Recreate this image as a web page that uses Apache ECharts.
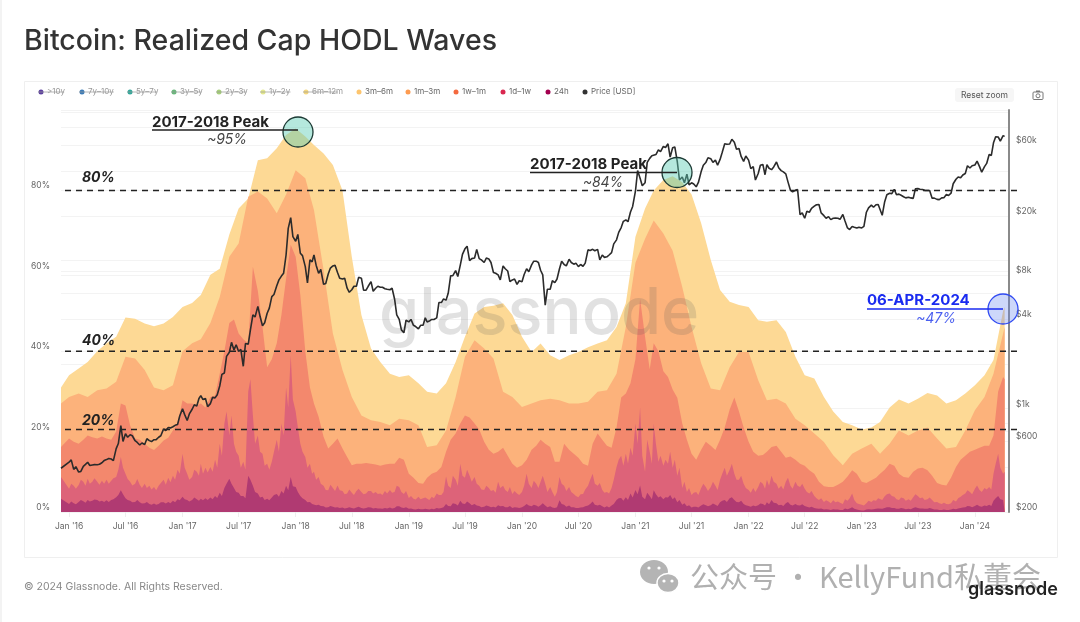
<!DOCTYPE html>
<html>
<head>
<meta charset="utf-8">
<title>Bitcoin: Realized Cap HODL Waves</title>
<script src="https://cdn.jsdelivr.net/npm/echarts@6/dist/echarts.min.js"></script>
<style>
html, body { margin: 0; padding: 0; background: #fff; }
#main { width: 1080px; height: 622px; }
</style>
</head>
<body>
<div id="main"></div>
<script>
// cumulative top edge of each visible band, in percent
// monthly rows: first value is the 6 Dec 2015 start, last two are 1 and 6 Apr 2024
var top3m6m = [31,
  34,35.7,37.3,40,42,43.6,48.4,48.1,46.9,46.2,46.9,48.5,
  51,52,54,59,60.5,69,75.5,78,87.5,88,90.5,93.8,
  95.4,93.4,91.3,89.2,86.3,80,63.5,49,40.7,37.3,34.4,33.6,
  34,32,29.9,29.5,32,37.3,43.6,49.4,51,51.3,51.9,49,
  43.6,39.8,41.9,39,37.8,39,39.8,41,41.9,42.7,46,51.9,
  68.5,75.5,80,82.6,83.5,82,79,71.8,62.7,55.2,52.3,51.5,
  51,47.7,47.3,47.7,44.8,38.6,34,33.2,28.6,25,22.4,21.6,
  20.5,21,22.4,26,28,27,28.2,29.6,29,27,27.8,29.5,
  31.5,34,37.8,50,51];
var top1m3m = [27,
  28.6,29.5,28.6,30.3,30.7,32.4,38.6,38.2,35.3,31,30.3,31.5,
  40,42,43,47,53.5,63.5,66.8,78.4,79.7,78,74.3,79,
  85,83,75.1,60.2,44.4,35.3,28.6,24,22.8,22.4,21.6,23.2,
  22.8,21.6,16.2,16.6,20.3,28.6,38.6,42.7,40.7,38.2,29.9,28.6,
  26.1,27,27.8,28.2,27.8,27,27,27.4,29.9,30.3,34.4,46,
  62,68,72.5,69.3,65,56,46,37,30.7,30.3,36,39.8,
  39.8,32.8,27.8,28.2,27,23.2,21.6,19.5,17.4,14.1,11.6,14.5,
  15.8,17,14.5,17,20.3,19,20.3,21,18.3,15.8,16.2,20.3,
  25.3,28.6,34.4,44.4,46];
// half monthly rows: start value, then the 1st and 16th of each month
var top1w1m = [16.2,
  18.3,17.5,17,18,19,18.6,18.3,18.8,18.3,18,20,27,26.5,21.5,18.3,18,17,16,15.4,16.5,17.8,18.5,20.3,22,
  27.8,27,27,26.5,27,26,28.6,29,34.4,40,47,47.9,44.4,43,42,61,55,46,36,38,42,49,58,66.5,
  63.5,54,40,31,27,23.7,18.7,15.8,17,18.3,15.8,13.7,11.6,12,12,12.2,12,11.8,11.5,11.8,12,12,13.5,13,
  9.5,8.5,7.2,7,8.5,9.5,10,11.2,15,18,19.5,22,24,23.5,22,20.5,17.5,15.5,14.5,15,16,14,12,11,
  11.6,13,15.5,16.5,18,17,16.2,12.5,12.5,17,15.5,14.5,13.5,12,11.5,17,19.5,18,16.5,16,21,28.5,29.5,32,
  38,53,43.6,35.5,42,40,35,33.6,30.5,28.4,22,18,14.5,13,15.5,17.5,16.5,15.4,18,21,25.5,28.5,25,21,
  17.5,15,14,14.2,15,16.2,16.5,15,13.5,13.8,13,12,11.5,10.4,9.5,7.5,6.4,6.2,6.2,6.8,7.5,8.8,10.4,9.5,
  7.5,7.2,7.9,8.5,9.5,10.5,12,11.5,9.5,8.7,8.5,10,10.8,11,10.4,9,7.2,6.8,6.6,8.5,11.2,13,14,15,
  15.5,16,16.5,16.5,19,30,33.6,33];
// weekly rows: start value, then the 1st, 8th, 16th and 23rd of each month
var top1d1w = [8.7,
  5.8,7,6.5,5.8,6.7,8,7.5,6.5,8.3,7,7.5,8.4,7.5,6.8,7.8,7,8,7,7.8,8.4,8.7,10.5,13.7,11,9.5,8.2,7.5,6.6,7,8.2,6.8,6,7,6,6.5,5.6,6.2,5.4,6.5,7.2,8,6.8,8.5,7.4,9,8,10.5,9.5,
  14.5,11,9.5,8,8.7,10.5,10,9,12,9.5,11,9.8,11.2,10,13,11,17,14,22,25,19,24,17,15,14,11,12.5,10.5,30,33,24,17,19,15,14.5,11.5,12,10.5,12.5,15,18,15,22,19,31,26,39,28,
  25,21,17,15,13.7,11,12,9.5,10,8,8.7,7,6.5,5.5,5.4,6.8,6,5.2,6.6,5.4,5.2,4.4,4.6,5.6,4.8,4.2,5.2,5.8,5,4.4,4.6,5.2,5.2,4.6,5,4.5,4.6,4.2,5.2,4.6,5.5,4.8,5,6.5,6.2,5,4.5,5.2,
  3.5,4,3.3,3.1,3.8,3.2,3.4,3.6,3.3,3,3.8,3.4,4.6,4.2,4.2,5,8.8,6.5,6,9,8,6.5,12,9,8.5,10.5,9,7.5,8.7,7,6.5,5.6,5.5,6.5,6,5.2,5.5,4.8,7.5,6,6.5,5.5,5,6.2,4.5,5.2,4.6,4.2,
  5,6.5,9.5,7,6,7.8,7,6,7.5,9,7,5,6.2,5,3.8,5,8.7,7,6.5,5.2,6.2,5,4.5,4,3.7,4.4,4.5,5.6,6.5,8,9.5,7,6.5,7.2,5.5,4.8,5,4.6,6,8,11.2,13,14,11.5,14.5,12,16,14,
  22,17,26,14,10,18,15,12,22,17,12.5,14,11.5,13,12,15,11,13,9,11,6,7.5,5,6,4.2,4.8,5,4.2,6,7,6.2,5.2,6.2,7.5,6.5,5.5,8,9.5,11,9,10.5,12,9.5,8,8,9,7,6,
  5.5,4.8,6,5,6.2,7.5,7,5.8,8,6.5,9,7.5,7,5.8,6.5,5.6,7.5,8.5,6.5,5.8,7.5,6.5,6.2,7,5.8,5,4.6,5.2,4,3.4,3,3.4,2.5,2.9,2.6,2.2,2.9,2.4,2.6,2.3,2,3.2,2.8,3.4,4.6,3,2.2,2,
  1.8,1.6,2.2,2.8,2.5,2.9,2.8,3.4,3.7,3,3.9,4.4,4.6,4,3.8,3.2,3,3.6,3.4,2.8,3.2,2.8,3.7,4.4,4,3.4,3.6,3,3.2,3.6,3,2.4,2.5,2.2,2,2.3,2,1.9,2.2,3,2.6,3.4,3.8,4.2,4.6,5.4,5,4.4,
  5.8,6.6,5.5,5,6,5.6,6.2,5.6,9.5,12,14.5,11,9.5,10];
var top24h = [3.3,
  2,2.6,2.2,1.9,2.5,3,2.7,2.3,3,2.6,2.8,3.1,3,2.6,2.8,2.5,2.9,2.5,3,3.2,3.7,4.2,5.4,4.4,3.4,3,2.8,2.4,2.5,3,2.4,2.1,2.2,2.5,2,1.8,2.1,1.8,2,2.4,2.4,2.1,2.5,2.2,2.8,2.4,3.2,2.9,
  3.8,3.2,3,2.6,3,3.6,3.2,2.8,3.3,2.9,3.4,3,3.6,3.2,4,3.5,4.8,4,6,7,8.3,7,6,5,4.8,4,4,3.4,9,8,6.5,5,4.6,3.6,3.8,3,3.3,2.9,3.6,4.2,4.5,3.8,5.2,4.6,6.5,5.4,8.7,6.4,
  6.2,5,4,3.4,3,2.4,2.5,2,2.2,1.7,1.8,1.5,1.4,1.1,1.2,1.5,1.3,1.1,1.2,1,1.1,0.9,1,1.2,1,0.9,1.1,1.3,1,0.9,1,1.2,1.1,0.9,1,0.9,0.9,0.8,1,0.9,1.1,0.9,1,1.4,1.4,1.1,1,1.2,
  0.8,0.9,0.7,0.6,0.8,0.7,0.7,0.8,0.7,0.6,0.8,0.7,1,0.9,1,1.2,2,1.5,1.4,2.2,2,1.6,2.8,2.1,2,2.6,2.2,1.7,2,1.6,1.5,1.2,1.3,1.6,1.4,1.2,1.3,1.1,1.7,1.4,1.5,1.2,1.2,1.5,1,1.2,1.1,1,
  1.2,1.5,2,1.6,1.4,1.8,1.6,1.3,1.7,2.2,1.6,1.2,1.4,1.1,1,1.2,2.9,2,1.8,1.3,1.6,1.2,1.2,1,1,1.1,1.2,1.4,1.6,2,2.6,1.8,1.6,1.8,1.4,1.1,1.4,1.1,1.6,2,3,3.4,3.5,2.8,3.7,3,4.6,3.6,
  5.5,4.4,6.6,3.8,3.2,4.8,4,3.2,5.4,4.4,3.6,3.9,3.2,3.7,3.6,4.2,3.2,3.7,2.4,3,1.8,2.2,1.4,1.7,1.1,1.3,1.3,1.1,1.6,1.9,1.7,1.4,1.7,2.1,1.8,1.5,2.4,2.8,3,2.5,3.4,3.7,3,2.5,2.4,2.8,2,1.7,
  1.5,1.3,1.6,1.4,1.7,2.1,2,1.6,2.4,1.9,3,2.3,2.2,1.7,1.8,1.5,2.2,2.5,1.8,1.6,2,1.7,1.6,1.9,1.5,1.3,1.1,1.3,1,0.9,0.8,0.9,0.6,0.7,0.6,0.5,0.7,0.6,0.6,0.5,0.5,0.9,0.7,0.9,1.2,0.8,0.6,0.5,
  0.4,0.4,0.6,0.7,0.6,0.7,0.8,0.9,1,0.8,1,1.2,1.2,1,1,0.8,0.8,1,0.9,0.7,0.8,0.7,1,1.2,1,0.9,0.9,0.8,0.8,1,0.8,0.6,0.6,0.5,0.5,0.6,0.5,0.5,0.6,0.8,0.7,0.9,1,1.1,1.2,1.5,1.4,1.2,
  1.5,1.8,1.4,1.3,1.6,1.5,1.8,1.5,2.8,3.4,4,3.2,3,3];
// BTC price in USD on the same weekly dates
var priceUsd = [395,
  434,450,388,405,372,376,407,420,434,412,416,418,417,420,430,445,452,460,456,445,536,580,766,600,676,640,665,655,606,590,567,585,572,625,607,598,616,617,640,655,729,710,745,740,753,770,780,890,
  998,910,830,920,989,1060,1040,1170,1222,1150,1170,1030,1080,1190,1180,1240,1420,1700,1740,2250,2400,2800,2490,2700,2430,2510,1930,2750,2720,3400,4300,4150,4900,4200,3630,3800,4400,4770,5700,5900,6750,7400,7850,8200,10900,16500,19500,14500,
  13500,15000,11200,10800,9100,7050,10100,9800,10900,9300,8200,8700,6900,7000,8100,8900,9200,9300,8300,7600,7500,7600,6500,6100,6350,6700,6700,7700,7600,6300,6300,6700,7200,6200,6500,6700,6600,6600,6450,6400,6350,6500,5500,4300,4000,3400,3250,3950,
  3850,4000,3650,3580,3450,3650,3650,4100,3850,3900,4000,4000,4100,5200,5200,5500,5400,6000,7900,7900,8550,7800,9300,11000,12000,12500,10000,10300,10400,11900,10300,10100,9700,10400,10250,9700,8300,8200,8000,7400,9200,8800,8500,7200,7400,7500,6900,7300,
  7200,8050,8800,8400,9350,9900,9900,9700,8600,8000,5000,6400,6400,7300,7100,7500,8800,9900,9400,9200,10200,9700,9450,9600,9100,9400,9150,9600,11800,11700,11900,11650,11900,10100,10900,10500,10600,10900,11300,12950,13800,15500,16700,18400,18800,18300,21300,23200,
  29400,40500,36000,32000,33500,46000,49000,51000,49600,52000,56000,54500,59000,58000,61500,50000,57800,58500,46500,35000,36700,33500,38300,32500,33500,32900,31500,33700,39900,44000,45900,49500,48800,46000,47700,44000,48200,53900,61500,61000,61300,66000,63000,56500,57200,50500,46700,50800,
  47700,41800,43100,35000,38700,44000,44600,38000,44400,42000,41100,42900,46300,42300,40500,39700,38500,34000,29800,29100,29800,30200,20400,21000,19300,21500,21200,22500,23300,23800,23900,21000,20100,19300,19800,18900,19300,19400,19300,19000,20500,18500,16600,16200,17000,16800,16600,16800,
  16600,17000,21200,22700,23700,22900,23800,23900,23600,20200,25000,27800,28450,28300,30300,27800,28100,27600,27000,26500,26800,26500,26300,30500,30600,30300,30200,29800,29700,29700,26400,26400,25900,25800,26500,26600,27900,27500,28500,33000,35400,36700,36200,37800,38700,43700,42200,43700,
  44200,46900,43100,39500,43100,45300,52100,51300,62400,68500,68400,64000,69700,69000];

var xTickLabels = ["Jan '16","Jul '16","Jan '17","Jul '17","Jan '18","Jul '18","Jan '19","Jul '19","Jan '20","Jul '20","Jan '21","Jul '21","Jan '22","Jul '22","Jan '23","Jul '23","Jan '24"];
var percentTicks = [0, 20, 40, 60, 80];
var priceLabels = [200, 600, 1000, 4000, 8000, 20000, 60000];
var priceGridLines = [200, 400, 600, 800, 1000, 2000, 4000, 6000, 8000, 10000, 20000, 40000, 60000, 80000, 100000];
var refLevels = [80, 40, 20.5];
var refNames = ['80%', '40%', '20%'];
var refNameDy = [13, 10, 9];
var legendNames = ['>10y','7y–10y','5y–7y','3y–5y','2y–3y','1y–2y','6m–12m','3m–6m','1m–3m','1w–1m','1d–1w','24h','Price [USD]'];
var legendColors = ['#5b3e9f','#3a7bb8','#2fa89a','#68b87a','#a7d07a','#e4e88e','#f5d77e','#fdc56e','#fd9b50','#f4693f','#d9274f','#a3004f','#333333'];
var legendDotX = [41,82,130,174,219,263,306,359,408,456,503,548,585];
var legendOff = 7; // first seven entries are switched off

var startTs = Date.UTC(2015, 11, 6);
var endTs = Date.UTC(2024, 3, 6);
var monthDates = [startTs], halfMonthDates = [startTs], weekDates = [startTs], tickDates = [];
for (var y = 2016; y <= 2024; y++) {
  for (var m = 0; m < 12; m++) {
    if (y == 2024 && m > 3) break;
    var lastMonth = y == 2024 && m == 3;
    monthDates.push(Date.UTC(y, m, 1));
    halfMonthDates.push(Date.UTC(y, m, 1));
    weekDates.push(Date.UTC(y, m, 1));
    if (!lastMonth) {
      halfMonthDates.push(Date.UTC(y, m, 16));
      weekDates.push(Date.UTC(y, m, 8), Date.UTC(y, m, 16), Date.UTC(y, m, 23));
    }
    if (m == 0 || m == 6) tickDates.push(Date.UTC(y, m, 1));
  }
}
monthDates.push(endTs);
halfMonthDates.push(endTs);
weekDates.push(endTs);

function pairs(dates, values) {
  return values.map(function (v, i) { return [dates[i], v]; });
}
function band(name, dates, values, color, z) {
  return {
    name: name, type: 'line', yAxisIndex: 0, z: z, symbol: 'none', animation: false,
    lineStyle: { width: 0 }, itemStyle: { color: color },
    areaStyle: { color: color, opacity: 1 },
    data: pairs(dates, values)
  };
}

var chart = echarts.init(document.getElementById('main'), null, { renderer: 'canvas' });
chart.setOption({
  animation: false,
  backgroundColor: '#fff',
  textStyle: { fontFamily: 'Inter' },
  title: {
    text: 'Bitcoin: Realized Cap HODL Waves', left: 19, top: 22,
    textStyle: { fontFamily: 'Inter', fontSize: 28.5, fontWeight: 500, color: '#333' }
  },
  grid: { left: 61, right: 71, top: 110, bottom: 110 },
  xAxis: {
    type: 'value', min: startTs, max: Date.UTC(2024, 3, 20),
    axisLine: { show: false },
    axisTick: { show: true, length: 5, lineStyle: { color: '#eee' }, customValues: tickDates },
    splitLine: { show: false },
    axisLabel: {
      customValues: tickDates, fontSize: 8.5, color: '#666', margin: 10, hideOverlap: false,
      formatter: function (v) { return xTickLabels[tickDates.indexOf(+v)]; }
    }
  },
  yAxis: [{
    type: 'value', min: 0, max: 100, interval: 20, position: 'left',
    axisLine: { show: false }, axisTick: { show: false },
    splitLine: { lineStyle: { color: '#f3f3f3', width: 1 } },
    axisLabel: {
      fontSize: 8.5, color: '#666', margin: 11, verticalAlign: 'bottom',
      customValues: percentTicks,
      formatter: function (v) { return v + '%'; }
    }
  }, {
    type: 'log', logBase: 10, min: 200, max: 104000, position: 'right',
    axisLine: { show: true, lineStyle: { color: '#8a8a8a', width: 2 } },
    axisTick: { show: false, customValues: priceGridLines },
    splitLine: { show: true, lineStyle: { color: '#f3f3f3', width: 1 } },
    axisLabel: {
      fontSize: 8.5, color: '#666', margin: 7, verticalAlign: 'bottom',
      customValues: priceLabels,
      formatter: function (v) { return v >= 1000 ? '$' + Math.round(v / 1000) + 'k' : '$' + Math.round(v); }
    }
  }],
  series: [
    band('3m-6m', monthDates, top3m6m, '#FDD995', 2),
    band('1m-3m', monthDates, top1m3m, '#FCB27B', 3),
    band('1w-1m', halfMonthDates, top1w1m, '#F3886D', 4),
    band('1d-1w', weekDates, top1d1w, '#DD6379', 5),
    band('24h', weekDates, top24h, '#B03A72', 6),
    {
      name: 'Price [USD]', type: 'line', yAxisIndex: 1, z: 8, symbol: 'none', animation: false,
      lineStyle: { color: '#2b2b2b', width: 1.6 },
      data: pairs(weekDates, priceUsd)
    }
  ]
});

// overlays: panel, legend, hand drawn notes and page furniture
var graphics = [];
graphics.push({ type: 'line', silent: true, shape: { x1: 1, y1: 0, x2: 1, y2: 622 }, style: { stroke: '#efefef', lineWidth: 1.5 } });
graphics.push({ type: 'rect', z: 0, silent: true, shape: { x: 24.5, y: 81.5, width: 1033, height: 476 },
  style: { fill: null, stroke: '#efefef', lineWidth: 1 } });
graphics.push({ type: 'text', z: 7, silent: true, style: { text: 'glassnode', x: 379, y: 314, verticalAlign: 'middle',
  font: '500 65px Inter', fill: 'rgba(90,90,90,0.18)' } });

legendNames.forEach(function (name, i) {
  var x = legendDotX[i], off = i < legendOff;
  graphics.push({ type: 'circle', silent: true, shape: { cx: x, cy: 92, r: 2.5 }, style: { fill: legendColors[i] } });
  graphics.push({ type: 'text', silent: true, style: { text: name, x: x + 6, y: 92, verticalAlign: 'middle',
    font: '8px Inter', fill: off ? '#999' : '#666' } });
  if (off) {
    graphics.push({ type: 'line', silent: true, shape: { x1: x - 3, y1: 92, x2: x + 6 + name.length * 4.3, y2: 92 },
      style: { stroke: '#999', lineWidth: 0.7 } });
  }
});

graphics.push({ type: 'rect', silent: true, shape: { x: 955, y: 88, width: 59, height: 14, r: 3 }, style: { fill: '#f6f6f6' } });
graphics.push({ type: 'text', silent: true, style: { text: 'Reset zoom', x: 984.5, y: 95, align: 'center', verticalAlign: 'middle', font: '8.5px Inter', fill: '#555' } });
graphics.push({ type: 'rect', silent: true, shape: { x: 1033, y: 92, width: 10, height: 7.5, r: 1 }, style: { fill: null, stroke: '#777', lineWidth: 1 } });
graphics.push({ type: 'circle', silent: true, shape: { cx: 1038, cy: 95.8, r: 2 }, style: { fill: null, stroke: '#777', lineWidth: 1 } });
graphics.push({ type: 'rect', silent: true, shape: { x: 1036, y: 90.5, width: 4, height: 1.5 }, style: { fill: '#777' } });

refLevels.forEach(function (level, i) {
  var py = chart.convertToPixel({ yAxisIndex: 0 }, level);
  graphics.push({ type: 'line', z: 9, silent: true, shape: { x1: 65, y1: py, x2: 1017, y2: py },
    style: { stroke: '#222', lineWidth: 1.5, lineDash: [6, 5] } });
  graphics.push({ type: 'text', z: 9, silent: true, style: { text: refNames[i], x: 82, y: py - refNameDy[i], verticalAlign: 'middle',
    font: 'italic 700 14px Inter', fill: '#222' } });
});

function note(title, sub, x1, x2, ty, ly, sx, sy, cx, cy, color, subColor, circleFill, circleStroke) {
  graphics.push({ type: 'circle', z: 10, silent: true, shape: { cx: cx, cy: cy, r: 15 },
    style: { fill: circleFill, stroke: circleStroke, lineWidth: 1.3 } });
  graphics.push({ type: 'line', z: 10, silent: true, shape: { x1: x1, y1: ly, x2: x2, y2: ly },
    style: { stroke: color, lineWidth: 1.4 } });
  graphics.push({ type: 'text', z: 10, silent: true, style: { text: title, x: x1, y: ty, verticalAlign: 'middle',
    font: '700 15px Inter', fill: color } });
  graphics.push({ type: 'text', z: 10, silent: true, style: { text: sub, x: sx, y: sy, align: 'center', verticalAlign: 'middle',
    font: 'italic 14px Inter', fill: subColor } });
}
note('2017-2018 Peak', '~95%', 152, 298, 122, 130, 227, 140, 298, 132, '#222', '#444', 'rgba(90,205,180,0.45)', '#1c3a34');
note('2017-2018 Peak', '~84%', 530, 677, 164, 172.5, 603, 183, 677, 172.5, '#222', '#444', 'rgba(90,205,180,0.45)', '#1c3a34');
note('06-APR-2024', '~47%', 867, 1003, 300.5, 309, 936, 319, 1003, 309, '#1a2bf0', '#4a5ff0', 'rgba(100,130,240,0.32)', '#2f49f2');

graphics.push({ type: 'text', silent: true, style: { text: '© 2024 Glassnode. All Rights Reserved.', x: 24, y: 587, verticalAlign: 'middle', font: '10.5px Inter', fill: '#888' } });
graphics.push({ type: 'ellipse', silent: true, shape: { cx: 654, cy: 572, rx: 14, ry: 12 }, style: { fill: '#b4b4b4' } });
graphics.push({ type: 'ellipse', silent: true, shape: { cx: 668, cy: 583, rx: 11, ry: 9.5 }, style: { fill: '#b4b4b4', stroke: '#fff', lineWidth: 1.5 } });
[[649, 568], [659, 568], [664, 581], [672, 581]].forEach(function (p) {
  graphics.push({ type: 'circle', silent: true, shape: { cx: p[0], cy: p[1], r: 1.6 }, style: { fill: '#fff' } });
});
graphics.push({ type: 'text', silent: true, style: { text: '公众号 · KellyFund私董会', x: 690, y: 577, verticalAlign: 'middle', font: '29px "Noto Sans CJK SC"', fill: '#b0b0b0' } });
graphics.push({ type: 'text', silent: true, style: { text: 'glassnode', x: 968, y: 590, verticalAlign: 'middle', font: '600 18px Inter', fill: '#222' } });

chart.setOption({ graphic: { elements: graphics } });
</script>
</body>
</html>
